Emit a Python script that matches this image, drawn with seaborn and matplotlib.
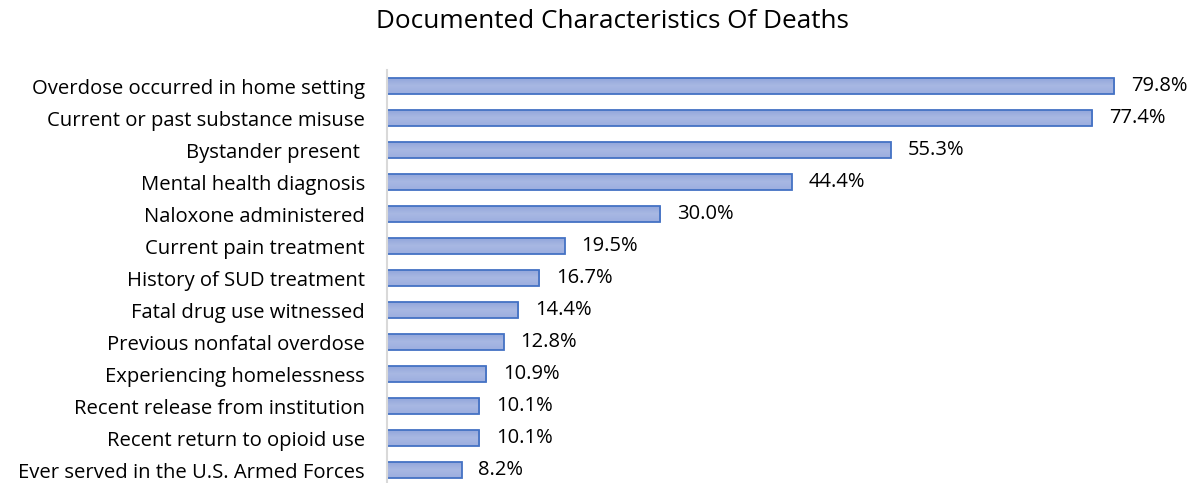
import numpy as np
import pandas as pd
import matplotlib
matplotlib.use("Agg")
import matplotlib.pyplot as plt
import seaborn as sns

characteristics = ["Overdose occurred in home setting",
                   "Current or past substance misuse",
                   "Bystander present ",
                   "Mental health diagnosis",
                   "Naloxone administered",
                   "Current pain treatment",
                   "History of SUD treatment",
                   "Fatal drug use witnessed",
                   "Previous nonfatal overdose",
                   "Experiencing homelessness",
                   "Recent release from institution",
                   "Recent return to opioid use",
                   "Ever served in the U.S. Armed Forces"]
percent = [79.8, 77.4, 55.3, 44.4, 30.0, 19.5, 16.7, 14.4, 12.8, 10.9, 10.1, 10.1, 8.2]

data = pd.DataFrame({"Characteristic": characteristics, "Percent": percent})

sns.set_style("white")
plt.rcParams['font.family'] = ['Open Sans', 'DejaVu Sans']
plt.rcParams['text.color'] = 'black'
plt.rcParams['ytick.color'] = 'black'

fig = plt.figure(figsize=(11.98, 4.83), dpi=100)
ax = fig.add_axes([387 / 1198, 0, 1 - 387 / 1198, 1 - 70 / 483])

sns.barplot(x="Percent", y="Characteristic", data=data, orient="h",
            color="#A3B4E0", edgecolor="#4472C4", linewidth=1.3,
            width=0.5, saturation=1, ax=ax)

# vertical gradient inside each bar
grad = np.linspace(0, 1, 64).reshape(-1, 1)
cmap = matplotlib.colors.LinearSegmentedColormap.from_list(
    "bar", ["#8FA4DA", "#A8B8E3", "#9CAEDF"])
for p in ax.patches:
    x0, y0 = p.get_x(), p.get_y()
    w, h = p.get_width(), p.get_height()
    im = ax.imshow(grad, cmap=cmap, aspect="auto", extent=[x0, x0 + w, y0 + h, y0],
                   zorder=p.get_zorder() + 0.1, interpolation="bilinear")
    im.set_clip_path(p)
    p.set_facecolor("none")
    p.set_zorder(p.get_zorder() + 0.5)

ax.bar_label(ax.containers[0], fmt="%.1f%%", padding=12, fontsize=14.5, color="black")

ax.set_xlim(0, 89)
ax.set_ylim(12.406, -0.5)
ax.set_xlabel("")
ax.set_ylabel("")
ax.set_xticks([])
ax.tick_params(axis="y", length=0, pad=15.8, labelsize=14.6, labelcolor="black")
for s in ["top", "right", "bottom"]:
    ax.spines[s].set_visible(False)
ax.spines["left"].set_color("#D9D9D9")
ax.spines["left"].set_linewidth(1.5)

fig.suptitle("Documented Characteristics Of Deaths", x=612 / 1198, y=1 - 22 / 483,
             va="center", fontsize=18.8)

plt.savefig("out.png", dpi=100)
